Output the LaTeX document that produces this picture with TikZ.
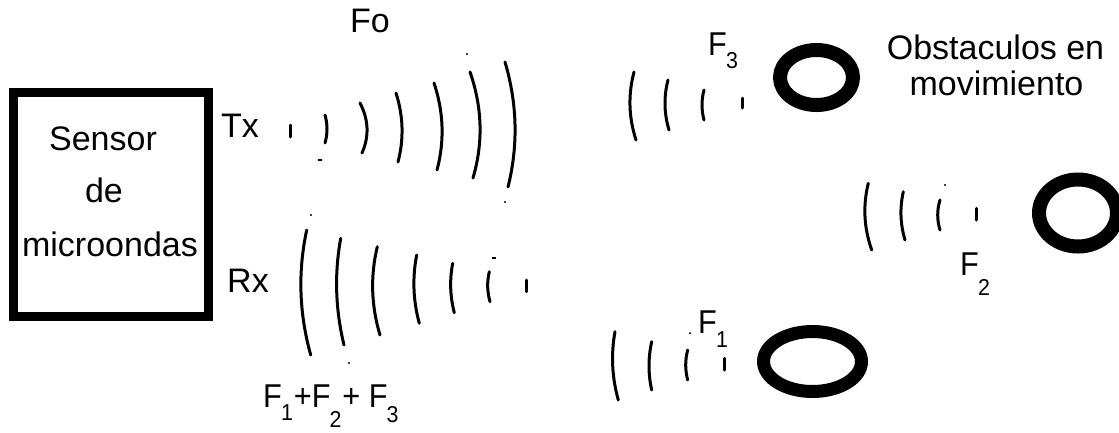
\documentclass[tikz,border=0pt]{standalone}
\usepackage{fontspec}
\setmainfont{Liberation Sans}
\usetikzlibrary{shapes.geometric,calc}
\newcommand\Fsb[2][13]{F\kern-1pt\raisebox{-#1pt}{\fontsize{23}{23}\selectfont #2}}
\tikzset{
  lbl/.style={font=\fontsize{34}{36}\selectfont, inner sep=0pt, anchor=base},
  flbl/.style={font=\fontsize{33}{36}\selectfont, inner sep=0pt, anchor=base west, xscale=0.93},
  wave/.style={line width=3pt, line cap=round},
  obst/.style={ellipse, draw, inner sep=0pt},
  speck/.style={circle, fill, inner sep=0pt, minimum size=2.2pt}
}
% smooth wave arc: top (x,y), bottom (x,y), x of the middle of the arc
\newcommand\wv[5]{%
  \pgfmathsetmacro\wvcq{2*#5-(#1+#3)/2}%
  \pgfmathsetmacro\wvym{(#2+#4)/2}%
  \draw[wave] (#1,#2) .. controls ($(#1,#2)!0.6667!(\wvcq,\wvym)$) and ($(#3,#4)!0.6667!(\wvcq,\wvym)$) .. (#3,#4);}
\begin{document}
\begin{tikzpicture}[x=1pt,y=-1pt]
\useasboundingbox (0,0) rectangle (1119,432);
\clip (0,0) rectangle (1119,432);
% sensor box
\node[draw, line width=9pt, minimum width=195pt, minimum height=224pt, inner sep=0pt] (sensor) at (111.3,204.1) {};
\node[lbl] (t1) at (103,150) {Sensor};
\node[lbl] (t2) at (104,202) {de};
\node[lbl] (t3) at (110,256) {microondas};
\node[lbl, anchor=base west] (tx) at (221,137) {Tx};
\node[lbl, anchor=base west] (rx) at (227,292) {Rx};
\node[lbl, anchor=base west] (fo) at (350,32) {Fo};
% Tx waves
\draw[wave] (290,125) -- (290,137);
\wv{325}{115}{325}{143}{327}
\wv{360}{103}{362}{153}{367}
\wv{396}{93}{398}{162}{402}
\wv{434}{83}{437}{170}{442}
\wv{470}{72}{473}{178}{480}
\wv{505}{62}{508}{187}{515}
\node[speck] (d1) at (467,54) {};
\draw[line width=1.5pt] (318,160) -- (322,160);
\node[speck] (d2) at (505,202) {};
% Rx waves
\wv{306.7}{230}{310.7}{355}{301}
\wv{340.7}{238.3}{344}{345}{336.7}
\wv{377.3}{246.7}{380}{335}{372.7}
\wv{416.7}{255}{419.3}{323.3}{414}
\wv{452.7}{263.3}{454.3}{312.7}{450.7}
\wv{489.3}{271.7}{490}{301.7}{487.7}
\draw[wave] (526,280) -- (526,291.7);
\node[speck] (d3) at (311,215) {};
\node[speck] (d4) at (349,363) {};
\draw[line width=1.5pt] (492,258) -- (496,258);
\node[flbl] (fsum) at (263,407) {\Fsb{1}\kern1pt+\Fsb[20]{2}\kern1pt+ \Fsb[15]{3}};
% F3 group
\wv{634}{72}{636}{140}{630}
\wv{668}{80}{669}{130}{665}
\wv{704}{90}{704}{120}{702}
\draw[wave] (742,98) -- (742,108);
\node[obst, line width=14pt, minimum width=73pt, minimum height=55pt] (ob3) at (816.5,77.5) {};
\node[flbl] (f3) at (708,55) {\Fsb{3}};
\node[lbl] (o1) at (995.5,59) {Obstaculos en};
\node[lbl] (o2) at (996.5,95) {movimiento};
% F2 group
\wv{868.3}{183.3}{871.7}{250}{865}
\wv{903.3}{191.7}{905}{240}{901}
\wv{940}{200}{940}{230}{937.7}
\draw[wave] (976.7,208.3) -- (976.7,220);
\node[speck] (d5) at (945,185) {};
\node[obst, line width=14pt, minimum width=78pt, minimum height=67pt] (ob2) at (1078,213) {};
\node[flbl] (f2) at (960,275) {\Fsb[20]{2}};
% F1 group
\wv{615}{331.7}{618.3}{400}{612.7}
\wv{651.7}{341.7}{651.7}{390}{649}
\wv{687.7}{350}{687.7}{380}{685.7}
\draw[wave] (724.3,358.3) -- (724.3,370);
\node[speck] (d6) at (690,333.3) {};
\node[obst, line width=13pt, minimum width=98pt, minimum height=60pt] (ob1) at (812.5,361.5) {};
\node[flbl] (f1) at (698,333) {\Fsb[14]{1}};
\end{tikzpicture}
\end{document}
